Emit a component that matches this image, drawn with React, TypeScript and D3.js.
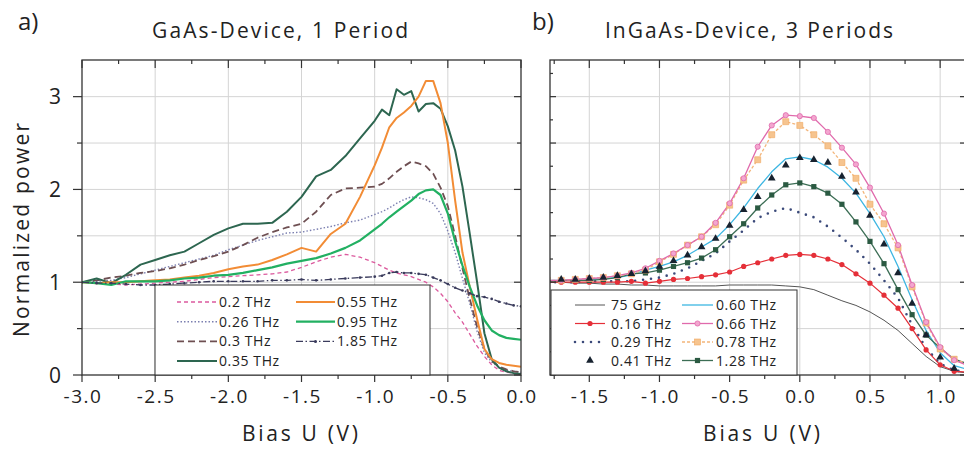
import React from 'react';
import * as d3 from 'd3';

// ---------- Panel a) GaAs device, 1 period ----------
const BIAS_L = [-3.0,-2.9,-2.8,-2.7,-2.6,-2.5,-2.4,-2.3,-2.2,-2.1,-2.0,-1.9,-1.8,-1.7,-1.6,-1.5,-1.4,-1.3,-1.2,-1.1,
  -1.0,-0.95,-0.9,-0.85,-0.8,-0.75,-0.7,-0.65,-0.6,-0.55,-0.5,-0.45,-0.4,-0.35,-0.3,-0.25,-0.2,-0.15,-0.1,-0.05,0.0];
const GAAS_020 = [1.00,0.99,0.98,0.97,0.98,0.99,1.00,1.01,1.03,1.05,1.06,1.07,1.08,1.09,1.11,1.16,1.22,1.27,1.30,1.27,
  1.21,1.17,1.13,1.10,1.08,1.06,1.03,1.00,0.95,0.88,0.79,0.67,0.57,0.44,0.31,0.20,0.11,0.05,0.03,0.02,0.02];
const GAAS_026 = [1.00,1.01,1.02,1.05,1.09,1.13,1.17,1.21,1.25,1.29,1.35,1.40,1.45,1.49,1.53,1.54,1.57,1.60,1.64,1.67,
  1.73,1.76,1.80,1.85,1.89,1.92,1.91,1.89,1.85,1.74,1.55,1.32,1.04,0.77,0.47,0.24,0.14,0.08,0.05,0.04,0.03];
const GAAS_030 = [1.00,1.02,1.05,1.07,1.10,1.12,1.15,1.19,1.24,1.28,1.33,1.40,1.48,1.54,1.59,1.63,1.76,1.94,2.01,2.02,
  2.03,2.06,2.12,2.19,2.25,2.30,2.28,2.25,2.17,2.02,1.82,1.50,1.15,0.82,0.52,0.28,0.15,0.09,0.06,0.04,0.03];
const GAAS_035 = [1.00,1.04,0.99,1.08,1.19,1.24,1.29,1.33,1.42,1.51,1.58,1.63,1.63,1.64,1.76,1.92,2.14,2.21,2.36,2.55,
  2.74,2.86,2.80,3.08,3.02,3.06,2.84,2.92,2.93,2.87,2.68,2.42,2.03,1.52,1.00,0.45,0.17,0.08,0.04,0.02,0.01];
const GAAS_055 = [1.00,0.99,1.00,1.00,1.01,1.02,1.03,1.05,1.07,1.10,1.14,1.17,1.19,1.24,1.30,1.37,1.33,1.52,1.63,1.92,
  2.26,2.45,2.67,2.77,2.83,2.90,3.00,3.17,3.17,2.93,2.50,1.88,1.32,0.95,0.60,0.28,0.17,0.13,0.11,0.10,0.09];
const GAAS_095 = [1.00,0.99,0.97,1.01,1.01,1.01,1.02,1.04,1.05,1.07,1.08,1.10,1.13,1.16,1.20,1.23,1.26,1.31,1.37,1.45,
  1.57,1.63,1.70,1.76,1.82,1.88,1.95,1.99,2.00,1.94,1.74,1.44,1.18,0.95,0.75,0.59,0.48,0.43,0.40,0.39,0.38];
const GAAS_185 = [1.00,0.99,0.99,0.98,0.97,0.97,0.98,0.99,1.00,1.01,1.01,1.01,1.01,1.02,1.02,1.03,1.02,1.03,1.04,1.05,
  1.06,1.07,1.10,1.11,1.10,1.10,1.09,1.08,1.05,1.02,0.98,0.94,0.91,0.88,0.85,0.84,0.82,0.79,0.77,0.75,0.74];

// ---------- Panel b) InGaAs device, 3 periods ----------
const BIAS_R = [-1.8,-1.7,-1.6,-1.5,-1.4,-1.3,-1.2,-1.1,-1.0,-0.9,-0.8,-0.7,-0.6,-0.5,-0.4,-0.3,-0.2,-0.1,0.0,0.1,
  0.2,0.3,0.4,0.5,0.6,0.7,0.8,0.9,1.0,1.1,1.2];
const IN_075G = [1.00,1.00,0.99,0.99,0.98,0.98,0.97,0.97,0.96,0.96,0.96,0.96,0.96,0.97,0.97,0.97,0.97,0.96,0.95,0.92,
  0.86,0.80,0.75,0.68,0.59,0.48,0.34,0.20,0.09,0.04,0.02];
const IN_016 = [1.00,1.00,1.00,1.00,1.00,1.00,1.01,0.99,1.01,1.03,1.04,1.06,1.08,1.11,1.17,1.21,1.25,1.29,1.30,1.29,
  1.25,1.19,1.09,0.99,0.86,0.72,0.50,0.27,0.11,0.04,0.03];
const IN_029 = [1.00,1.00,1.00,1.01,1.01,1.01,1.01,1.03,1.05,1.09,1.15,1.23,1.31,1.44,1.56,1.69,1.76,1.80,1.75,1.70,
  1.60,1.48,1.35,1.20,1.02,0.83,0.54,0.29,0.12,0.05,0.03];
const IN_041 = [1.03,1.03,1.03,1.04,1.05,1.07,1.09,1.12,1.17,1.23,1.29,1.38,1.47,1.61,1.78,1.92,2.12,2.26,2.34,2.32,
  2.29,2.14,1.97,1.72,1.41,1.10,0.77,0.43,0.19,0.07,0.04];
const IN_060 = [1.02,1.02,1.02,1.03,1.04,1.05,1.08,1.13,1.17,1.22,1.29,1.38,1.47,1.62,1.80,2.01,2.19,2.33,2.35,2.32,
  2.24,2.12,1.96,1.74,1.49,1.17,0.81,0.48,0.24,0.10,0.06];
const IN_066 = [1.02,1.02,1.03,1.04,1.05,1.07,1.10,1.15,1.23,1.31,1.40,1.49,1.64,1.85,2.12,2.46,2.69,2.80,2.79,2.77,
  2.62,2.45,2.27,2.02,1.74,1.40,0.97,0.57,0.30,0.16,0.10];
const IN_078 = [1.02,1.02,1.03,1.04,1.05,1.07,1.09,1.13,1.22,1.30,1.40,1.49,1.62,1.83,2.10,2.32,2.59,2.73,2.69,2.59,
  2.47,2.29,2.12,1.84,1.63,1.37,0.95,0.56,0.28,0.17,0.12];
const IN_128 = [1.01,1.02,1.02,1.02,1.03,1.05,1.09,1.10,1.13,1.17,1.21,1.26,1.35,1.49,1.63,1.80,1.94,2.05,2.07,2.03,
  1.96,1.84,1.65,1.44,1.20,0.92,0.65,0.43,0.29,0.17,0.12];

const X_TICKS_L = [-3.0,-2.5,-2.0,-1.5,-1.0,-0.5,0.0];
const X_TICKS_R = [-1.5,-1.0,-0.5,0.0,0.5,1.0];
const Y_TICKS = [0,1,2,3];

const FONT = "'Open Sans', 'Noto Sans', sans-serif";
const FRAME = '#333';
const GRID = '#d4d4d4';
const TXT = '#222';
const LEG_FS = 14;

type Style = { color: string; width: number; dash?: string };

export default function App() {
  const xL = d3.scaleLinear().domain([-3, 0]).range([82, 521]);
  const xR = d3.scaleLinear().domain([-1.78, 1.17]).range([550, 964]);
  const y = d3.scaleLinear().domain([0, 3.395]).range([375, 60]);
  const yTop = 60, yBot = 375;

  const lineL = (vals: number[]) =>
    d3.line<number>().x((_, i) => xL(BIAS_L[i])).y((d) => y(d))(vals) || '';
  const lineR = (vals: number[]) =>
    d3.line<number>().x((_, i) => xR(BIAS_R[i])).y((d) => y(d))(vals) || '';

  const range = (a: number, b: number, s: number) => {
    const out: number[] = [];
    for (let v = a; v <= b + 1e-9; v += s) out.push(Math.round(v * 100) / 100);
    return out;
  };

  const gridL = range(-2.5, -0.5, 0.5);
  const gridR = range(-1.5, 1.0, 0.5);
  const gridY = range(0.5, 3.0, 0.5);

  const leftSeries: { name: string; vals: number[]; st: Style }[] = [
    { name: '0.2 THz', vals: GAAS_020, st: { color: '#dc5a9e', width: 1.3, dash: '4 3' } },
    { name: '0.26 THz', vals: GAAS_026, st: { color: '#7b7fb0', width: 1.4, dash: '1.5 2' } },
    { name: '0.3 THz', vals: GAAS_030, st: { color: '#6e4f52', width: 1.8, dash: '7 4' } },
    { name: '0.35 THz', vals: GAAS_035, st: { color: '#2d6650', width: 2 } },
    { name: '0.55 THz', vals: GAAS_055, st: { color: '#f28c35', width: 2 } },
    { name: '0.95 THz', vals: GAAS_095, st: { color: '#22b062', width: 2.2 } },
    { name: '1.85 THz', vals: GAAS_185, st: { color: '#3a3b5c', width: 1.3, dash: '7 2.5 1.5 2.5' } },
  ];

  const tri = d3.symbol(d3.symbolTriangle, 26)() || '';

  const ticksBottom = (sx: d3.ScaleLinear<number, number>, from: number, to: number) =>
    range(from, to, 0.25).map((v) => {
      const major = Math.abs(v * 2 - Math.round(v * 2)) < 1e-6;
      return (
        <g key={'b' + v}>
          <line x1={sx(v)} x2={sx(v)} y1={yBot} y2={yBot + (major ? 7 : 4)} stroke={FRAME} strokeWidth={1.2} />
          <line x1={sx(v)} x2={sx(v)} y1={yTop} y2={yTop + (major ? 8 : 4)} stroke={FRAME} strokeWidth={1.2} />
        </g>
      );
    });

  const legendLine = (x1: number, x2: number, yy: number, st: Style) => (
    <line x1={x1} x2={x2} y1={yy} y2={yy} stroke={st.color} strokeWidth={st.width}
      strokeDasharray={st.dash} />
  );

  return (
    <svg width={964} height={453} style={{ position: 'absolute', left: 0, top: 0, background: '#fff' }}
      fontFamily={FONT}>
      <defs>
        <clipPath id="clipL"><rect x={82} y={yTop} width={521 - 82} height={yBot - yTop} /></clipPath>
        <clipPath id="clipR"><rect x={550} y={yTop} width={964 - 550} height={yBot - yTop} /></clipPath>
      </defs>
      <rect x={0} y={0} width={964} height={453} fill="#fff" />

      {/* ---------------- Panel a ---------------- */}
      <g>
        {gridL.map((v) => (
          <line key={'gxl' + v} x1={xL(v)} x2={xL(v)} y1={yTop} y2={yBot} stroke={GRID} strokeWidth={1} />
        ))}
        {gridY.map((v) => (
          <line key={'gyl' + v} x1={82} x2={521} y1={y(v)} y2={y(v)} stroke={GRID} strokeWidth={1} />
        ))}
        <g clipPath="url(#clipL)" fill="none" strokeLinejoin="round">
          {leftSeries.map((s) => (
            <path key={s.name} d={lineL(s.vals)} stroke={s.st.color} strokeWidth={s.st.width}
              strokeDasharray={s.st.dash} />
          ))}
          {GAAS_185.map((v, i) => (
            <circle key={'d185' + i} cx={xL(BIAS_L[i])} cy={y(v)} r={1.3} fill="#3a3b5c" />
          ))}
        </g>
        <rect x={82} y={yTop} width={521 - 82} height={yBot - yTop} fill="none" stroke={FRAME} strokeWidth={1.3} />
        {ticksBottom(xL, -3, 0)}
        {range(0, 3.0, 0.5).map((v) => {
          const major = Number.isInteger(v);
          return (
            <g key={'tyl' + v}>
              <line x1={82 - (major ? 9 : 5)} x2={82} y1={y(v)} y2={y(v)} stroke={FRAME} strokeWidth={1.2} />
              <line x1={521 - (major ? 7 : 4)} x2={521} y1={y(v)} y2={y(v)} stroke={FRAME} strokeWidth={1.2} />
            </g>
          );
        })}
        {Y_TICKS.map((v) => (
          <text key={'yl' + v} x={61} y={y(v) + 7.5} fontSize={21} textAnchor="end" fill={TXT}>{v}</text>
        ))}
        {X_TICKS_L.map((v) => (
          <text key={'xl' + v} x={xL(v) + 1} y={403} fontSize={19} letterSpacing={1.5} textAnchor="middle" fill={TXT}>{v.toFixed(1)}</text>
        ))}
        <text x={18} y={30} fontSize={24} fill={TXT}>a)</text>
        <text x={152} y={38} fontSize={21} fill={TXT} textLength={256} lengthAdjust="spacing">GaAs-Device, 1 Period</text>
        <text x={242} y={441} fontSize={21} fill={TXT} textLength={116} lengthAdjust="spacing">Bias U (V)</text>
        <text transform="translate(29,337) rotate(-90)" x={0} y={0} fontSize={21} fill={TXT} textLength={214}
          lengthAdjust="spacing">Normalized  power</text>

        {/* legend a */}
        <rect x={155} y={285} width={275} height={90} fill="#fff" stroke={FRAME} strokeWidth={1} />
        {leftSeries.map((s, i) => {
          const col = i < 4 ? 0 : 1;
          const row = i < 4 ? i : i - 4;
          const yy = 302 + row * 19.7;
          const lx1 = col === 0 ? 177 : 296;
          const lx2 = col === 0 ? 217 : 335;
          return (
            <g key={'lg' + s.name}>
              {legendLine(lx1, lx2, yy, s.st)}
              {s.name === '1.85 THz' && <circle cx={(lx1 + lx2) / 2} cy={yy} r={1.5} fill={s.st.color} />}
              <text x={lx2 + 2} y={yy + 5} fontSize={LEG_FS} letterSpacing={0.6} fill={TXT}>{s.name}</text>
            </g>
          );
        })}
      </g>

      {/* ---------------- Panel b ---------------- */}
      <g>
        {gridR.map((v) => (
          <line key={'gxr' + v} x1={xR(v)} x2={xR(v)} y1={yTop} y2={yBot} stroke={GRID} strokeWidth={1} />
        ))}
        {gridY.map((v) => (
          <line key={'gyr' + v} x1={550} x2={964} y1={y(v)} y2={y(v)} stroke={GRID} strokeWidth={1} />
        ))}
        <g clipPath="url(#clipR)" fill="none" strokeLinejoin="round">
          <path d={lineR(IN_075G)} stroke="#555" strokeWidth={1} />
          <path d={lineR(IN_029)} stroke="#3b4a7a" strokeWidth={2.6} strokeDasharray="0 8" strokeLinecap="round" />
          <path d={lineR(IN_016)} stroke="#e52f38" strokeWidth={1.2} />
          <path d={lineR(IN_060)} stroke="#3db6e2" strokeWidth={1.3} />
          <path d={lineR(IN_128)} stroke="#3c6e55" strokeWidth={1.3} />
          <path d={lineR(IN_078)} stroke="#f3b57a" strokeWidth={1.3} strokeDasharray="3 2" />
          <path d={lineR(IN_066)} stroke="#e06aac" strokeWidth={1.3} />
          {IN_016.map((v, i) => (
            <circle key={'m16' + i} cx={xR(BIAS_R[i])} cy={y(v)} r={2.6} fill="#e52f38" />
          ))}
          {IN_128.map((v, i) => (
            <rect key={'m128' + i} x={xR(BIAS_R[i]) - 2.6} y={y(v) - 2.6} width={5.2} height={5.2} fill="#2b5a42" />
          ))}
          {IN_078.map((v, i) => (
            <rect key={'m78' + i} x={xR(BIAS_R[i]) - 3} y={y(v) - 3} width={6} height={6} fill="#f6c48f"
              stroke="#f0a860" strokeWidth={0.6} />
          ))}
          {IN_066.map((v, i) => (
            <circle key={'m66' + i} cx={xR(BIAS_R[i])} cy={y(v)} r={2.6} fill="#f3a6cf" stroke="#e06aac" strokeWidth={0.8} />
          ))}
          {IN_041.map((v, i) => (
            <path key={'m41' + i} d={tri} transform={`translate(${xR(BIAS_R[i])},${y(v)})`} fill="#17222f" />
          ))}
        </g>
        <rect x={550} y={yTop} width={964 - 550 + 2} height={yBot - yTop} fill="none" stroke={FRAME} strokeWidth={1.3} />
        {ticksBottom(xR, -1.75, 1.0)}
        {range(0, 3.25, 0.25).map((v) => {
          const major = Math.abs(v * 2 - Math.round(v * 2)) < 1e-6;
          return (
            <g key={'tyr' + v}>
              <line x1={550} x2={550 + (major ? 6 : 3)} y1={y(v)} y2={y(v)} stroke={FRAME} strokeWidth={1.2} />
              {major && <line x1={964 - 4} x2={964} y1={y(v)} y2={y(v)} stroke={FRAME} strokeWidth={1.2} />}
            </g>
          );
        })}
        {X_TICKS_R.map((v) => (
          <text key={'xr' + v} x={xR(v) + 1} y={403} fontSize={19} letterSpacing={1.5} textAnchor="middle" fill={TXT}>{v.toFixed(1)}</text>
        ))}
        <text x={532} y={30} fontSize={24} fill={TXT}>b)</text>
        <text x={605} y={38} fontSize={21} fill={TXT} textLength={288} lengthAdjust="spacing">InGaAs-Device, 3 Periods</text>
        <text x={703} y={441} fontSize={21} fill={TXT} textLength={117} lengthAdjust="spacing">Bias U (V)</text>

        {/* legend b */}
        <rect x={551} y={290} width={246} height={85} fill="#fff" stroke={FRAME} strokeWidth={1} />
        {(() => {
          const rows = [305, 323.5, 342, 360.5];
          const c1a = 575, c1b = 605, c2a = 682, c2b = 713;
          return (
            <g fontSize={LEG_FS} letterSpacing={0.6} fill={TXT}>
              <line x1={c1a} x2={c1b} y1={rows[0]} y2={rows[0]} stroke="#555" strokeWidth={1} />
              <text x={611} y={rows[0] + 5}>75 GHz</text>
              <line x1={c1a} x2={c1b} y1={rows[1]} y2={rows[1]} stroke="#e52f38" strokeWidth={1.2} />
              <circle cx={(c1a + c1b) / 2} cy={rows[1]} r={2.6} fill="#e52f38" />
              <text x={611} y={rows[1] + 5}>0.16 THz</text>
              <line x1={c1a} x2={c1b} y1={rows[2]} y2={rows[2]} stroke="#3b4a7a" strokeWidth={2.6}
                strokeDasharray="0 8" strokeLinecap="round" />
              <text x={611} y={rows[2] + 5}>0.29 THz</text>
              <path d={tri} transform={`translate(${(c1a + c1b) / 2},${rows[3]})`} fill="#17222f" />
              <text x={611} y={rows[3] + 5}>0.41 THz</text>
              <line x1={c2a} x2={c2b} y1={rows[0]} y2={rows[0]} stroke="#3db6e2" strokeWidth={1.3} />
              <text x={716} y={rows[0] + 5}>0.60 THz</text>
              <line x1={c2a} x2={c2b} y1={rows[1]} y2={rows[1]} stroke="#e06aac" strokeWidth={1.3} />
              <circle cx={(c2a + c2b) / 2} cy={rows[1]} r={2.6} fill="#f3a6cf" stroke="#e06aac" strokeWidth={0.8} />
              <text x={716} y={rows[1] + 5}>0.66 THz</text>
              <line x1={c2a} x2={c2b} y1={rows[2]} y2={rows[2]} stroke="#f3b57a" strokeWidth={1.3} strokeDasharray="3 2" />
              <rect x={(c2a + c2b) / 2 - 3} y={rows[2] - 3} width={6} height={6} fill="#f6c48f" stroke="#f0a860" strokeWidth={0.6} />
              <text x={716} y={rows[2] + 5}>0.78 THz</text>
              <line x1={c2a} x2={c2b} y1={rows[3]} y2={rows[3]} stroke="#3c6e55" strokeWidth={1.3} />
              <rect x={(c2a + c2b) / 2 - 2.6} y={rows[3] - 2.6} width={5.2} height={5.2} fill="#2b5a42" />
              <text x={716} y={rows[3] + 5}>1.28 THz</text>
            </g>
          );
        })()}
      </g>
    </svg>
  );
}
